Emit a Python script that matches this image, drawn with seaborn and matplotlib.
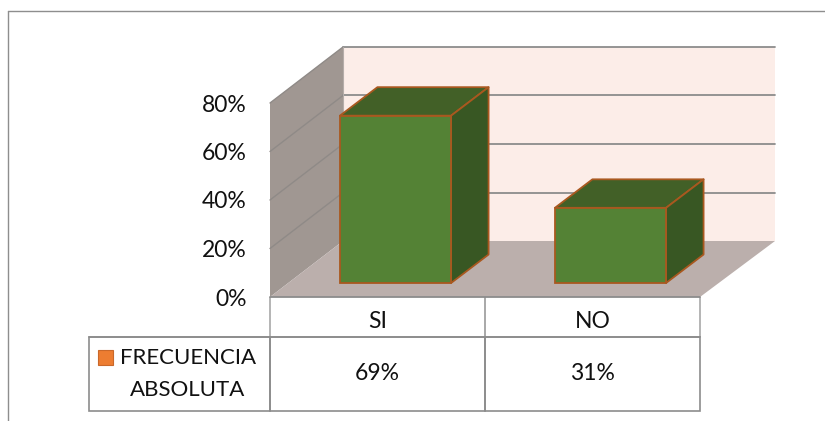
import matplotlib
matplotlib.use("Agg")
import matplotlib.pyplot as plt
from matplotlib.lines import Line2D
from matplotlib.patches import Polygon, Rectangle
import seaborn as sns

categories = ["SI", "NO"]
values = [69, 31]
value_labels = ["69%", "31%"]
y_ticks = [0, 20, 40, 60, 80]
series_label = "FRECUENCIA\nABSOLUTA"

W, H = 825, 421
FRONT = "#548235"; TOP = "#426027"; SIDE = "#385723"; EDGE = "#A9581F"
WALL = "#A09792"; FLOOR = "#BBAFAC"; BACK = "#FCEDE8"; GRID = "#8C8C8C"; INK = "#111111"
FS = 16.5

sns.set_theme(style="white")
plt.rcParams["font.family"] = ["Lato", "DejaVu Sans"]
fig = plt.figure(figsize=(W / 100, H / 100), dpi=100, facecolor="white")

def box(l, t, r, b):
    return [l / W, 1 - b / H, (r - l) / W, (b - t) / H]

# Frame of the chart area (left and top only are inside the crop)
for xs, ys in [((8, 8), (11, 421)), ((8, 825), (11, 11))]:
    fig.add_artist(Line2D([x / W for x in xs], [1 - y / H for y in ys], color="#8E8E8E", lw=1.0))

# Main axes: front plane of the 3D box
ax = fig.add_axes(box(270, 103, 700, 297))
ax.set_xlim(-0.5, 1.5)
ax.set_ylim(0, 80)
ax.patch.set_alpha(0)
for s in ax.spines.values():
    s.set_visible(False)
ax.set_xticks([])
ax.set_yticks(y_ticks)
ax.set_yticklabels([f"{t}%" for t in y_ticks], fontsize=FS, color=INK)
ax.tick_params(axis="y", length=0, pad=17)

x0, x1 = ax.get_xlim()
ux = (x1 - x0) / 430      # data units per pixel
uy = 80 / 194
ddx, ddy = 73 * ux, 56 * uy   # depth of the box
top = y_ticks[-1]

ax.add_patch(Polygon([(x0 + ddx, ddy), (x1 + 2 * ux + ddx, ddy), (x1 + 2 * ux + ddx, top + ddy), (x0 + ddx, top + ddy)],
                     fc=BACK, ec="none", clip_on=False, zorder=1))
ax.add_patch(Polygon([(x0, 0), (x0 + ddx, ddy), (x0 + ddx, top + ddy), (x0, top)],
                     fc=WALL, ec="none", clip_on=False, zorder=1))
ax.add_patch(Polygon([(x0, 0), (x1, 0), (x1 + 2 * ux + ddx, ddy), (x0 + ddx, ddy)],
                     fc=FLOOR, ec="none", clip_on=False, zorder=1))
for t in y_ticks[1:]:
    ax.plot([x0, x0 + ddx], [t, t + ddy], color="#8F8A87", lw=1.0, clip_on=False, zorder=2)
    ax.plot([x0 + ddx, x1 + 2 * ux + ddx], [t + ddy, t + ddy], color=GRID, lw=1.3, clip_on=False, zorder=2)
ax.plot([x0 + ddx, x0 + ddx], [ddy, top + ddy], color="#B5ADA9", lw=0.8, clip_on=False, zorder=2)
ax.plot([x0, x1], [0, 0], color=GRID, lw=1.3, clip_on=False, zorder=2)

# Bars axes: same scale, shifted half way into the box
ax_b = fig.add_axes(box(288, 89, 718, 283))
sns.barplot(x=categories, y=values, ax=ax_b, color=FRONT, saturation=1, width=0.517,
            edgecolor=EDGE, linewidth=1.3, zorder=3)
ax_b.set_xlim(x0, x1)
ax_b.set_ylim(0, 80)
ax_b.axis("off")
bdx, bdy = 37.5 * ux, 28.5 * uy
for bar in ax_b.patches:
    bar.set_clip_on(False)
    l, b, w, h = bar.get_x(), bar.get_y(), bar.get_width(), bar.get_height()
    r, t = l + w, b + h
    ax_b.add_patch(Polygon([(l, t), (r, t), (r + bdx, t + bdy), (l + bdx, t + bdy)],
                           fc=TOP, ec=EDGE, lw=1.3, clip_on=False, zorder=2.5, joinstyle="round"))
    ax_b.add_patch(Polygon([(r, b), (r + bdx, b + bdy), (r + bdx, t + bdy), (r, t)],
                           fc=SIDE, ec=EDGE, lw=1.3, clip_on=False, zorder=2.5, joinstyle="round"))

# Data table under the plot
tab = ax.table(cellText=[["", "", ""], [""] + value_labels],
               colWidths=[181 / 611, 215 / 611, 215 / 611],
               cellLoc="center",
               bbox=[(89 - 270) / 430, (297 - 411) / 194, 611 / 430, 114 / 194])
tab.auto_set_font_size(False)
tab.set_fontsize(FS)
for (r, c), cell in tab.get_celld().items():
    cell.set_height({0: 40 / 114, 1: 74 / 114}[r])
    cell.set_facecolor("none")
    cell.set_linewidth(1.2)
    cell.set_edgecolor(GRID if r == 1 else "#A8A8A8")
    cell.get_text().set_color(INK)
    if r == 0:
        cell.visible_edges = "" if c == 0 else "LR"
line_x = [89 / W, 700 / W]
fig.add_artist(Line2D(line_x, [1 - 337 / H] * 2, color=GRID, lw=1.2))

# Category labels sit a little below the middle of their row
label_y = (297 - 322) / 194
trans = ax.get_xaxis_transform()
for i, name in enumerate(categories):
    ax.text(i, label_y, name, transform=trans, ha="center", va="center",
            fontsize=FS, color=INK, clip_on=False)

fig.add_artist(Rectangle((98 / W, 1 - 365 / H), 15 / W, 15 / H, transform=fig.transFigure,
                         fc="#ED7D31", ec="#C9682A", lw=0.8))
fig.text(188 / W, 1 - 374 / H, series_label, ha="center", va="center", fontsize=16,
         color=INK, linespacing=1.7)

fig.savefig("out.png", dpi=100)
